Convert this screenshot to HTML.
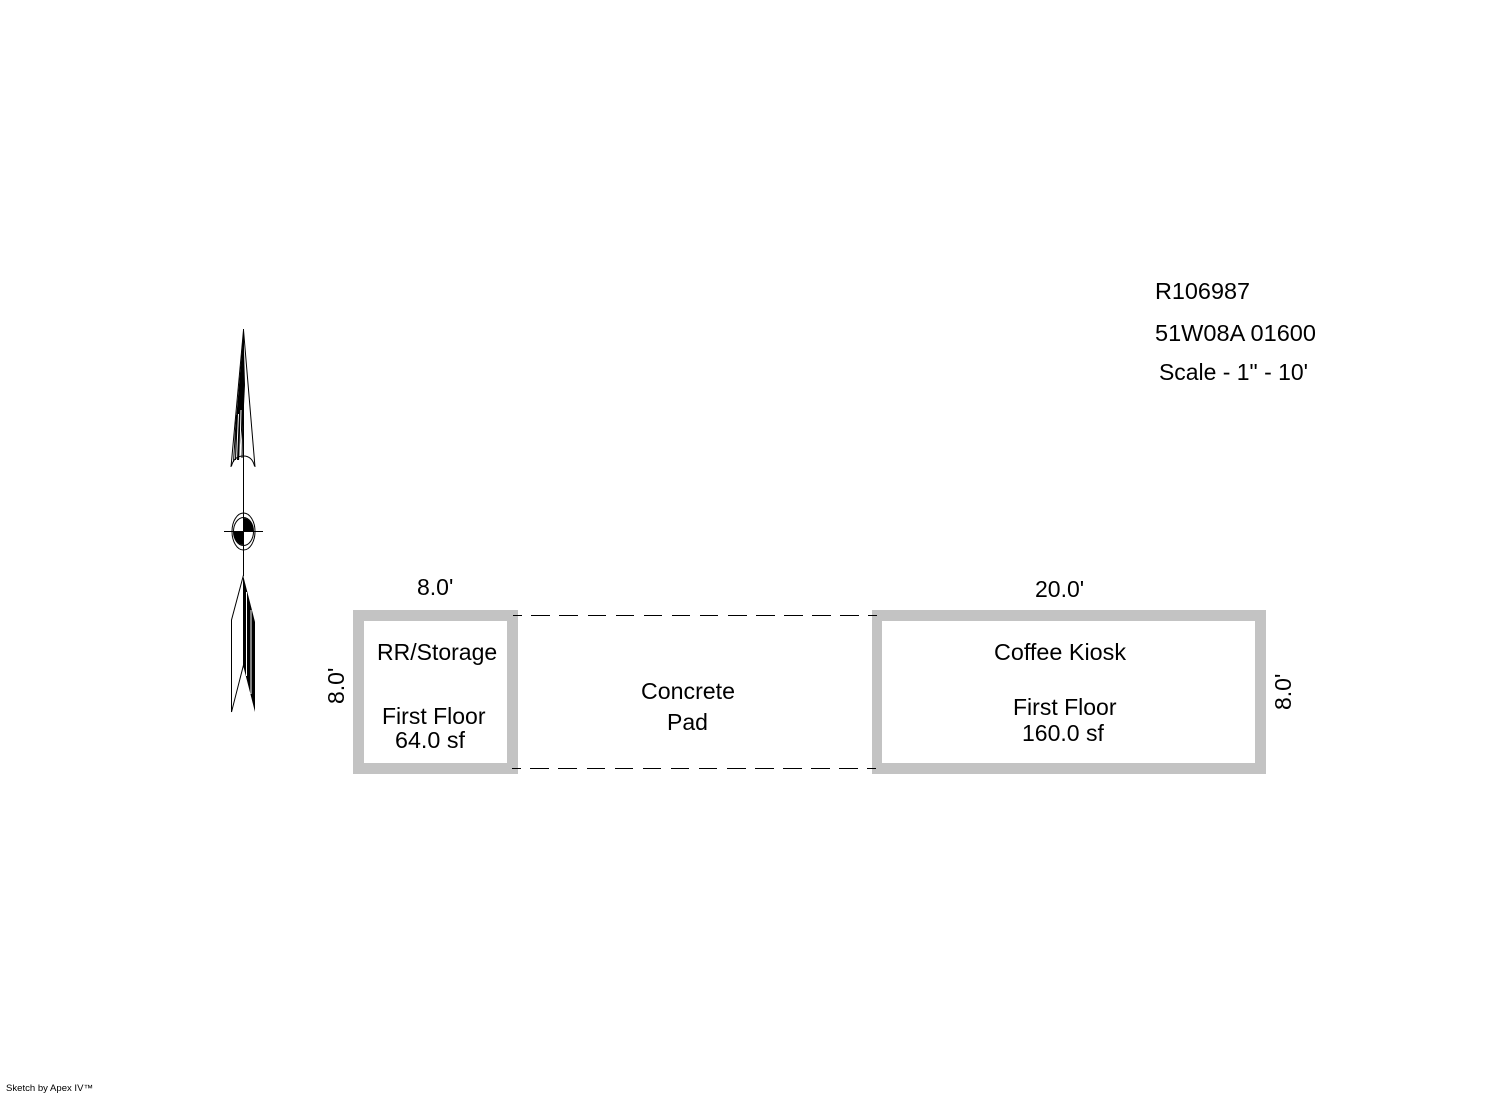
<!DOCTYPE html>
<html>
<head>
<meta charset="utf-8">
<style>
html,body{margin:0;padding:0;background:#fff;width:1492px;height:1094px;overflow:hidden}
svg{display:block}
text{font-family:"Liberation Sans",sans-serif;font-size:23px;fill:#000}
</style>
</head>
<body>
<svg width="1492" height="1094" viewBox="0 0 1492 1094" xmlns="http://www.w3.org/2000/svg">
<rect width="1492" height="1094" fill="#fff"/>

<!-- walls -->
<path fill-rule="evenodd" fill="#c3c3c3" d="M353 610H518V774H353Z M364 621V763H507V621Z"/>
<path fill-rule="evenodd" fill="#c3c3c3" d="M872 610H1266V774H872Z M882 621V763H1255V621Z"/>

<!-- dashed pad -->
<path stroke="#000" stroke-width="1" fill="none" shape-rendering="crispEdges" d="M513 615.500H522 M531 615.500H550 M559 615.500H578 M588 615.500H606 M616 615.500H634 M644 615.500H662 M672 615.500H690 M700 615.500H718 M728 615.500H747 M756 615.500H775 M784 615.500H803 M812 615.500H831 M840 615.500H859 M868 615.500H877"/>
<path stroke="#000" stroke-width="1" fill="none" shape-rendering="crispEdges" d="M512 768.500H521 M530 768.500H549 M558 768.500H577 M587 768.500H605 M615 768.500H633 M643 768.500H661 M671 768.500H689 M699 768.500H717 M727 768.500H746 M755 768.500H774 M783 768.500H802 M811 768.500H830 M839 768.500H858 M867 768.500H876"/>

<!-- north arrow: top head -->
<path d="M243.500 332 L245 385 L244 405 L242 430 L239 460 L235 460 L236 420 Z" fill="#000"/>
<g stroke="#fff" stroke-width="1" fill="none">
<line x1="238.500" y1="414" x2="236.500" y2="460"/>
<line x1="241" y1="410" x2="239.800" y2="458"/>
</g>
<g fill="none" stroke="#000" stroke-width="1">
<line x1="243.500" y1="329" x2="243.500" y2="576"/>
<path d="M243.500 330 L231 467 M243.500 330 L255 467"/>
<path d="M231.500 466 Q234 456 243.500 456 Q252 456 254.500 466"/>
<path d="M236.500 415 L233.500 462"/>
<path d="M243 412 L242 458"/>
</g>

<!-- north arrow: centre -->
<g fill="none" stroke="#000" stroke-width="1">
<ellipse cx="243.500" cy="531.500" rx="11.500" ry="18.500"/>
<ellipse cx="243.500" cy="531.500" rx="10" ry="14"/>
<line x1="224" y1="531.500" x2="263" y2="531.500"/>
</g>
<path d="M243.500 531.500 L243.500 518 A10 14 0 0 1 253.500 531.500 Z" fill="#000"/>
<path d="M243.500 531.500 L243.500 545 A10 14 0 0 1 233.500 531.500 Z" fill="#000"/>

<!-- north arrow: bottom head -->
<path d="M243.500 575 L231.500 620 L231.500 712 L243.500 665" fill="none" stroke="#000" stroke-width="1"/>
<path d="M243 575 L255 622 L255 712 L243 665 Z" fill="#000"/>
<line x1="246.500" y1="592" x2="246.500" y2="676" stroke="#fff" stroke-width="1"/>
<line x1="251" y1="610" x2="251" y2="694" stroke="#fff" stroke-width="1"/>

<!-- top right labels -->
<text x="1155" y="299" textLength="95" lengthAdjust="spacingAndGlyphs">R106987</text>
<text x="1155" y="341" textLength="161" lengthAdjust="spacingAndGlyphs">51W08A 01600</text>
<text x="1159" y="380" textLength="149" lengthAdjust="spacingAndGlyphs">Scale - 1" - 10'</text>

<!-- dimensions -->
<text x="417" y="595">8.0'</text>
<text x="1035" y="597">20.0'</text>
<text transform="translate(344,704) rotate(-90)">8.0'</text>
<text transform="translate(1291,710) rotate(-90)">8.0'</text>

<!-- room labels -->
<text x="377" y="660">RR/Storage</text>
<text x="382" y="724">First Floor</text>
<text x="395" y="748" textLength="70" lengthAdjust="spacingAndGlyphs">64.0 sf</text>
<text x="641" y="699" textLength="94" lengthAdjust="spacingAndGlyphs">Concrete</text>
<text x="667" y="730">Pad</text>
<text x="994" y="660" textLength="132" lengthAdjust="spacingAndGlyphs">Coffee Kiosk</text>
<text x="1013" y="715">First Floor</text>
<text x="1022" y="741">160.0 sf</text>

<text x="6" y="1091" style="font-size:9px" textLength="87" lengthAdjust="spacingAndGlyphs">Sketch by Apex IV™</text>
</svg>
</body>
</html>
